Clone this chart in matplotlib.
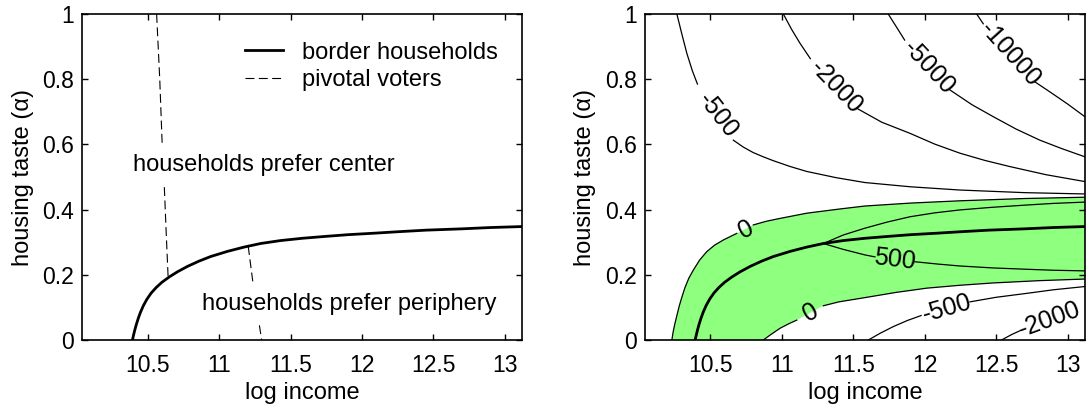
import numpy as np
import matplotlib
matplotlib.use("Agg")
import matplotlib.pyplot as plt

nan = np.nan

# ---------------------------------------------------------
# data
# ---------------------------------------------------------
# border households (same curve in both panels)
border_x = [10.394, 10.400, 10.410, 10.420, 10.435, 10.450, 10.470, 10.495,
            10.525, 10.560, 10.600, 10.650, 10.708, 10.780, 10.860, 10.941,
            11.060, 11.175, 11.291, 11.430, 11.582, 11.750, 11.900, 12.100,
            12.247, 12.450, 12.700, 12.900, 13.121]
border_y = [0.0, 0.012, 0.030, 0.046, 0.067, 0.085, 0.105, 0.125,
            0.144, 0.161, 0.177, 0.193, 0.209, 0.226, 0.242, 0.256,
            0.272, 0.285, 0.296, 0.305, 0.312, 0.318, 0.323, 0.328,
            0.332, 0.337, 0.341, 0.345, 0.348]

# pivotal voters (two branches)
pivot1_x = [10.563, 10.585, 10.602, 10.616, 10.630, 10.644]
pivot1_y = [1.0, 0.80, 0.60, 0.48, 0.33, 0.188]
pivot2_x = [11.204, 11.239, 11.298]
pivot2_y = [0.288, 0.169, 0.0]

# contour lines of the right panel (nan = gap for the label)
c0_up_x = [10.231, 10.240, 10.252, 10.266, 10.283, 10.300, 10.322, 10.350,
           10.382, 10.425, 10.475, 10.530, 10.592, 10.685, nan, 10.801,
           10.890, 10.988, 11.175, 11.408, 11.582, 11.900, 12.247, 12.700,
           13.121]
c0_up_y = [0.0, 0.025, 0.050, 0.075, 0.105, 0.130, 0.160, 0.190,
           0.215, 0.245, 0.271, 0.291, 0.307, 0.327, nan, 0.353,
           0.364, 0.373, 0.389, 0.402, 0.411, 0.420, 0.427, 0.434,
           0.438]
c0_lo_x = [10.871, 10.918, 10.988, 11.050, 11.105, nan, 11.291, 11.400,
           11.582, 11.800, 12.014, 12.250, 12.480, 12.800, 13.121]
c0_lo_y = [0.0, 0.015, 0.036, 0.050, 0.061, nan, 0.105, 0.117,
           0.130, 0.146, 0.159, 0.168, 0.175, 0.182, 0.187]

c500_up_x = [11.291, 11.430, 11.582, 11.740, 11.897, 12.070, 12.247, 12.470,
             12.713, 12.900, 13.121]
c500_up_y = [0.296, 0.322, 0.343, 0.362, 0.378, 0.390, 0.399, 0.407,
             0.414, 0.419, 0.423]
c500_lo_x = [11.291, 11.430, 11.582, 11.652, nan, 11.932, 12.090, 12.247,
             12.480, 12.713, 12.900, 13.121]
c500_lo_y = [0.296, 0.278, 0.261, 0.255, nan, 0.240, 0.233, 0.227,
             0.221, 0.217, 0.214, 0.212]

cm500_up_x = [10.266, 10.300, 10.336, 10.375, 10.410, nan, 10.661, 10.730,
              10.800, 10.870, 10.941, 11.060, 11.175, 11.380, 11.582, 11.900,
              12.247, 12.700, 13.121]
cm500_up_y = [1.0, 0.940, 0.879, 0.825, 0.785, nan, 0.613, 0.592,
              0.575, 0.562, 0.550, 0.532, 0.517, 0.498, 0.483, 0.470,
              0.460, 0.452, 0.448]
cm500_lo_x = [11.606, 11.690, 11.780, 11.880, 11.975, nan, 12.317, 12.500,
              12.713, 12.900, 13.121]
cm500_lo_y = [0.0, 0.021, 0.041, 0.060, 0.075, nan, 0.117, 0.131,
              0.143, 0.154, 0.164]

cm2000_up_x = [11.011, 11.070, 11.128, 11.200, nan, 11.524, 11.700, 11.897,
               12.070, 12.247, 12.420, 12.596, 12.850, 13.121]
cm2000_up_y = [1.0, 0.952, 0.910, 0.863, nan, 0.711, 0.668, 0.634,
               0.601, 0.573, 0.551, 0.532, 0.507, 0.486]
cm2000_lo_x = [12.538, 12.610, 12.670]
cm2000_lo_y = [0.0, 0.017, 0.029]

cm5000_x = [11.745, 11.810, 11.860, nan, 12.177, 12.330, 12.480, 12.640,
            12.806, 12.960, 13.121]
cm5000_y = [1.0, 0.955, 0.920, nan, 0.767, 0.722, 0.685, 0.647,
            0.613, 0.587, 0.562]

cm10000_x = [12.364, 12.410, nan, 12.771, 12.880, 13.000, 13.121]
cm10000_y = [1.0, 0.970, nan, 0.792, 0.760, 0.724, 0.685]

# contour labels: text, x, y, rotation
clabel_text = ["-500", "-2000", "-5000", "-10000", "0", "0", "500", "-500", "-2000"]
clabel_x = [10.555, 11.380, 12.030, 12.600, 10.750, 11.200, 11.792, 12.160, 12.875]
clabel_y = [0.688, 0.776, 0.836, 0.875, 0.340, 0.085, 0.247, 0.097, 0.063]
clabel_rot = [-52, -46, -47, -48, 27, 29, -7, 16, 20]

xticks = [10.5, 11, 11.5, 12, 12.5, 13]
xtick_labels = ["10.5", "11", "11.5", "12", "12.5", "13"]
yticks = [0, 0.2, 0.4, 0.6, 0.8, 1]
ytick_labels = ["0", "0.2", "0.4", "0.6", "0.8", "1"]

# ---------------------------------------------------------
# style
# ---------------------------------------------------------
plt.rcParams["font.family"] = ["Liberation Sans", "DejaVu Sans"]
plt.rcParams["font.size"] = 17
green = "#8fff80"

fig = plt.figure(figsize=(10.87, 4.08), dpi=100)
ax1 = fig.add_axes([82.3 / 1087, 68 / 408, 440 / 1087, 326 / 408])
ax2 = fig.add_axes([645 / 1087, 68 / 408, 440 / 1087, 326 / 408])


def style_axes(ax):
    ax.set_xlim(10.043, 13.122)
    ax.set_ylim(0, 1)
    ax.set_xticks(xticks)
    ax.set_xticklabels(xtick_labels)
    ax.set_yticks(yticks)
    ax.set_yticklabels(ytick_labels)
    ax.tick_params(direction="in", top=True, right=True, length=4.5,
                   width=1, labelsize=16.5)
    ax.tick_params(axis="x", pad=10)
    ax.tick_params(axis="y", pad=6)
    for s in ax.spines.values():
        s.set_linewidth(1.2)
    ax.set_xlabel("log income", labelpad=4)
    ax.set_ylabel("housing taste (α)", labelpad=6)


# ---------------------------------------------------------
# left panel
# ---------------------------------------------------------
ax1.plot(border_x, border_y, color="black", lw=2, label="border households")
ax1.plot(pivot1_x, pivot1_y, color="black", lw=0.8, dashes=(8, 4),
         label="pivotal voters")
ax1.plot(pivot2_x, pivot2_y, color="black", lw=0.8, dashes=(8, 4))

ax1.text(10.40, 0.537, "households prefer center", va="center", ha="left",
         bbox=dict(facecolor="white", edgecolor="none", pad=7))
ax1.text(10.878, 0.110, "households prefer periphery", va="center", ha="left",
         bbox=dict(facecolor="white", edgecolor="none", pad=7))

ax1.legend(loc="upper left", bbox_to_anchor=(0.37, 0.915), frameon=False,
           handlelength=1.6, handletextpad=0.8, labelspacing=0.22,
           borderpad=0, borderaxespad=0)
style_axes(ax1)

# ---------------------------------------------------------
# right panel
# ---------------------------------------------------------
up_x = np.array(c0_up_x)
up_y = np.array(c0_up_y)
lo_x = np.array(c0_lo_x)
lo_y = np.array(c0_lo_y)
keep_up = ~np.isnan(up_x)
keep_lo = ~np.isnan(lo_x)
fill_x = np.concatenate([up_x[keep_up], lo_x[keep_lo][::-1]])
fill_y = np.concatenate([up_y[keep_up], lo_y[keep_lo][::-1]])
ax2.fill(fill_x, fill_y, color=green, lw=0, zorder=1)

thin = dict(color="black", lw=0.9, zorder=2)
for cx, cy in [(c0_up_x, c0_up_y), (c0_lo_x, c0_lo_y),
               (c500_up_x, c500_up_y), (c500_lo_x, c500_lo_y),
               (cm500_up_x, cm500_up_y), (cm500_lo_x, cm500_lo_y),
               (cm2000_up_x, cm2000_up_y), (cm2000_lo_x, cm2000_lo_y),
               (cm5000_x, cm5000_y), (cm10000_x, cm10000_y)]:
    ax2.plot(cx, cy, **thin)

ax2.plot(border_x, border_y, color="black", lw=2, zorder=3)

for t, x, y, r in zip(clabel_text, clabel_x, clabel_y, clabel_rot):
    ax2.text(x, y, t, rotation=r, rotation_mode="anchor", ha="center",
             va="center", fontsize=18, zorder=4)

style_axes(ax2)

fig.savefig("out.png", dpi=100)
